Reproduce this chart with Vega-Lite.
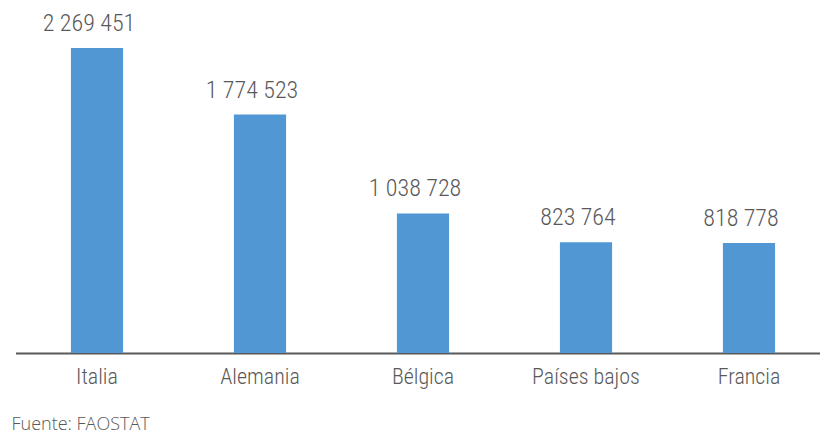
{
  "$schema": "https://vega.github.io/schema/vega-lite/v6.json",
  "autosize": "none",
  "width": 815,
  "height": 353,
  "padding": {"left": 15.5, "top": 0, "right": 0, "bottom": 81},
  "background": "white",
  "config": {
    "view": {"stroke": null},
    "locale": {"number": {"decimal": ",", "thousands": " ", "grouping": [3], "currency": ["", " €"]}},
    "font": "Roboto Condensed, Roboto, sans-serif"
  },
  "title": {
    "text": "Fuente: FAOSTAT",
    "orient": "bottom",
    "anchor": "start",
    "frame": "group",
    "dx": -4,
    "offset": 43,
    "fontSize": 18,
    "fontWeight": 300,
    "color": "#595959",
    "font": "Open Sans",
    "baseline": "alphabetic"
  },
  "data": {
    "values": [
      {"pais": "Italia", "valor": 2269451},
      {"pais": "Alemania", "valor": 1774523},
      {"pais": "Bélgica", "valor": 1038728},
      {"pais": "Países bajos", "valor": 823764},
      {"pais": "Francia", "valor": 818778}
    ]
  },
  "encoding": {
    "x": {
      "field": "pais",
      "type": "nominal",
      "sort": null,
      "scale": {"paddingInner": 0.68, "paddingOuter": 0.34},
      "axis": {
        "title": null,
        "labelAngle": 0,
        "ticks": false,
        "domainColor": "#595959",
        "domainWidth": 2,
        "labelColor": "#595959",
        "labelFontSize": 22,
        "labelFontWeight": 300,
        "labelPadding": 13,
        "labelFont": "Roboto Condensed, Roboto, sans-serif"
      }
    },
    "y": {
      "field": "valor",
      "type": "quantitative",
      "scale": {"domain": [0, 2626600], "nice": false},
      "axis": null
    }
  },
  "layer": [
    {"mark": {"type": "bar", "color": "#5097D3"}},
    {
      "mark": {"type": "text", "baseline": "alphabetic", "dy": -17, "dx": -8, "fontSize": 24, "fontWeight": 300, "color": "#595959"},
      "encoding": {"text": {"field": "valor", "type": "quantitative", "format": ",d"}}
    }
  ]
}
